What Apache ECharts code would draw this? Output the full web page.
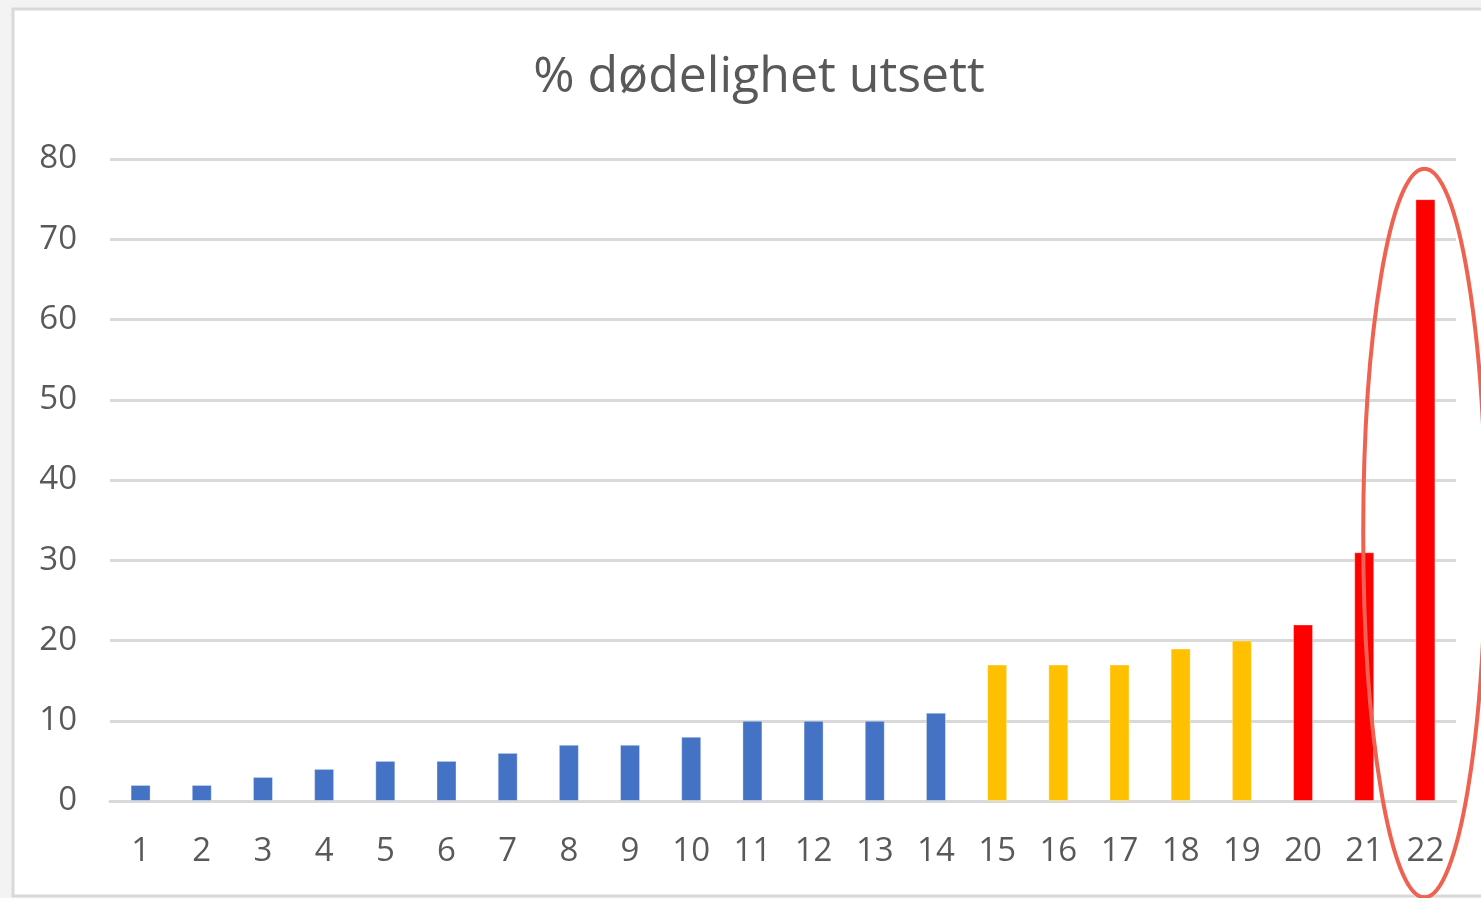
<!DOCTYPE html>
<html>
<head>
<meta charset="utf-8">
<script src="https://cdn.jsdelivr.net/npm/echarts@6/dist/echarts.min.js"></script>
<style>
html,body{margin:0;padding:0;background:#f3f3f3;}
#chart{width:1481px;height:898px;}
</style>
</head>
<body>
<div id="chart"></div>
<script>
const titleText = '% dødelighet utsett';
const categories = ['1','2','3','4','5','6','7','8','9','10','11','12','13','14','15','16','17','18','19','20','21','22'];
const values = [2,2,3,4,5,5,6,7,7,8,10,10,10,11,17,17,17,19,20,22,31,75];
const barColors = ['#4472c4','#4472c4','#4472c4','#4472c4','#4472c4','#4472c4','#4472c4','#4472c4','#4472c4','#4472c4','#4472c4','#4472c4','#4472c4','#4472c4',
  '#ffc000','#ffc000','#ffc000','#ffc000','#ffc000','#ff0000','#ff0000','#ff0000'];
const yTicks = [0,10,20,30,40,50,60,70,80];
// annotation ellipse around the last category, in data units
const ellipseCategory = '22';
const ellipseTop = 78.8;
const ellipseBottom = -12;

const FONT = '"Open Sans", "DejaVu Sans", sans-serif';
const chart = echarts.init(document.getElementById('chart'));

const option = {
  backgroundColor: '#f3f3f3',
  animation: false,
  title: {
    text: titleText,
    left: 754,
    top: 48,
    textAlign: 'center',
    textStyle: {fontFamily: FONT, fontSize: 50, fontWeight: 'normal', color: '#595959'}
  },
  grid: {left: 110, right: 25, top: 159, bottom: 97, containLabel: false},
  xAxis: {
    type: 'category',
    data: categories,
    axisLine: {show: true, lineStyle: {color: '#d9d9d9', width: 3}},
    axisTick: {show: false},
    axisLabel: {fontFamily: FONT, fontSize: 33, color: '#595959', margin: 34, interval: 0}
  },
  yAxis: {
    type: 'value',
    min: yTicks[0],
    max: yTicks[yTicks.length - 1],
    interval: 10,
    axisLine: {show: false},
    axisTick: {show: false},
    axisLabel: {fontFamily: FONT, fontSize: 33, color: '#595959', margin: 33, padding: [4, 0, 0, 0]},
    splitLine: {lineStyle: {color: '#d9d9d9', width: 3}}
  },
  series: [{
    type: 'bar',
    barWidth: 20,
    data: values.map((v, i) => ({value: v, itemStyle: {color: barColors[i]}})),
    itemStyle: {borderColor: 'rgba(255,255,255,0.35)', borderWidth: 1},
    z: 3
  }]
};
chart.setOption(option);

const ePtTop = chart.convertToPixel({gridIndex: 0}, [ellipseCategory, ellipseTop]);
const ePtBot = chart.convertToPixel({gridIndex: 0}, [ellipseCategory, ellipseBottom]);
const c0 = chart.convertToPixel({gridIndex: 0}, [categories[0], 0]);
const c1 = chart.convertToPixel({gridIndex: 0}, [categories[1], 0]);
const catW = c1[0] - c0[0];

chart.setOption({
  graphic: [
    {
      type: 'rect', z: -10, silent: true,
      shape: {x: 13, y: 9, width: 1500, height: 887},
      style: {fill: '#ffffff', stroke: '#d9d9d9', lineWidth: 3}
    },
    {
      type: 'ellipse', z: 100, silent: true,
      shape: {cx: ePtTop[0] - 1, cy: (ePtTop[1] + ePtBot[1]) / 2, rx: catW * 1.0, ry: (ePtBot[1] - ePtTop[1]) / 2},
      style: {fill: null, stroke: '#ef6150', lineWidth: 4}
    }
  ]
});
</script>
</body>
</html>
